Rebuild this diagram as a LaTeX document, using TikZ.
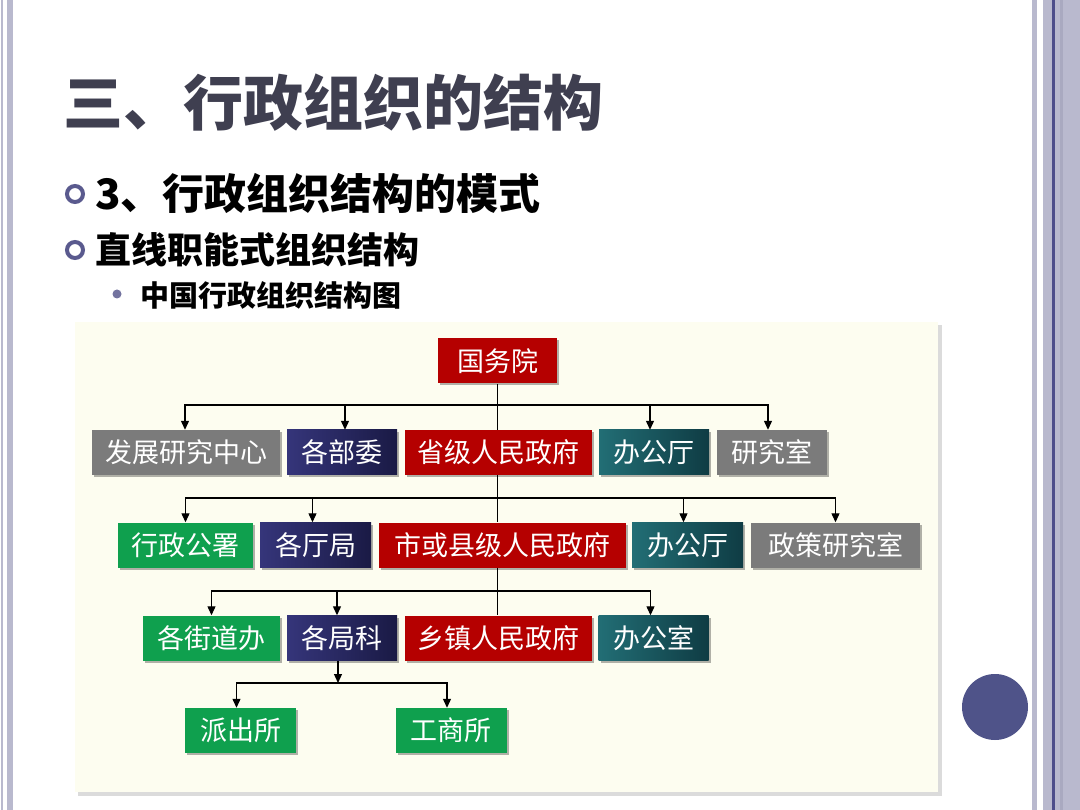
\documentclass[tikz,border=0pt]{standalone}
\usepackage{fontspec}
\setmainfont{Noto Sans CJK SC}
\usetikzlibrary{arrows.meta,shadows,calc}
\definecolor{titlec}{HTML}{3F3F50}
\definecolor{bul}{HTML}{5A5A8E}
\definecolor{stripe}{HTML}{B9B9CE}
\definecolor{stripeD}{HTML}{A9A9C0}
\definecolor{stripeB}{HTML}{4E4E8A}
\definecolor{panel}{HTML}{FDFDF0}
\definecolor{redb}{HTML}{B50000}
\definecolor{grayb}{HTML}{7B7B7B}
\definecolor{greenb}{HTML}{0FA04E}
\definecolor{navyL}{HTML}{35357A}
\definecolor{navyD}{HTML}{1A1A45}
\definecolor{tealL}{HTML}{226E75}
\definecolor{tealD}{HTML}{0F3C44}
\definecolor{circ}{HTML}{4F5389}
\tikzset{
  box/.style={text=white, inner sep=0pt, minimum height=45pt,
    font=\fontsize{27}{27}\selectfont,
    drop shadow={shadow xshift=2pt,shadow yshift=-2pt,opacity=0.3,fill=black}},
  redbox/.style={box, fill=redb},
  graybox/.style={box, fill=grayb},
  greenbox/.style={box, fill=greenb},
  navybox/.style={box, left color=navyL, right color=navyD},
  tealbox/.style={box, left color=tealL, right color=tealD},
  conn/.style={line width=1.2pt, black},
  arr/.style={conn, -{Triangle[length=9pt,width=8pt]}},
  txt/.style={anchor=west, inner sep=0pt},
}
\begin{document}
\begin{tikzpicture}[x=1pt,y=-1pt]
\useasboundingbox (0,0) rectangle (1080,810);
\fill[white] (0,0) rectangle (1080,810);
% side stripes
\fill[stripe] (1,0) rectangle (2.5,810);
\fill[stripe] (7,0) rectangle (12.5,810);
\fill[stripe] (1032,0) rectangle (1037,810);
\fill[stripe] (1043,0) rectangle (1080,810);
\fill[stripeB] (1052,0) rectangle (1054.5,810);
\fill[stripeD] (1060,0) rectangle (1063,810);
% circle decoration
\fill[circ] (995,707) circle (33);
% titles
\node[txt, text=titlec, font=\fontsize{60}{60}\selectfont\bfseries] (title) at (63,103) {三、行政组织的结构};
\draw[bul, line width=4pt] (75,194) circle (8);
\node[txt, font=\fontsize{42}{42}\selectfont\bfseries] (l1) at (95,193) {3、行政组织结构的模式};
\draw[bul, line width=4pt] (75,250) circle (8);
\node[txt, font=\fontsize{36}{36}\selectfont\bfseries] (l2) at (95,250) {直线职能式组织结构};
\fill[bul!85] (117,294) circle (4.5);
\node[txt, font=\fontsize{29}{29}\selectfont\bfseries] (l3) at (140,295) {中国行政组织结构图};
% panel
\fill[black!14] (78,325) rectangle (942,796);
\fill[panel] (75,322) rectangle (938,792);
% boxes
\node[redbox, minimum width=119pt] (gwy) at (497.5,361) {国务院};
\node[graybox, minimum width=188pt] (fz) at (186,452.5) {发展研究中心};
\node[navybox, minimum width=110pt] (bw) at (342,452.5) {各部委};
\node[redbox, minimum width=187pt] (sheng) at (498,452.5) {省级人民政府};
\node[tealbox, minimum width=110pt] (bgt1) at (654,452.5) {办公厅};
\node[graybox, minimum width=110pt] (yjs) at (772,452.5) {研究室};
\node[greenbox, minimum width=135pt] (xz) at (185.5,545) {行政公署};
\node[navybox, minimum width=111pt] (tj) at (315.5,545) {各厅局};
\node[redbox, minimum width=247pt] (shi) at (502.5,545) {市或县级人民政府};
\node[tealbox, minimum width=111pt] (bgt2) at (687.5,545) {办公厅};
\node[graybox, minimum width=169pt] (zc) at (835.5,545) {政策研究室};
\node[greenbox, minimum width=137pt] (jd) at (211.5,638) {各街道办};
\node[navybox, minimum width=110pt] (jk) at (342,638) {各局科};
\node[redbox, minimum width=187pt] (xiang) at (498,638) {乡镇人民政府};
\node[tealbox, minimum width=110pt] (bgs) at (653.5,638) {办公室};
\node[greenbox, minimum width=111pt] (pcs) at (240.5,730.5) {派出所};
\node[greenbox, minimum width=111pt] (gss) at (451,730.5) {工商所};
% trunk
\draw[conn] (gwy.south) -- (gwy.south |- sheng.north);
\draw[conn] (gwy.south |- sheng.south) -- (gwy.south |- shi.north);
\draw[conn] (gwy.south |- shi.south) -- (gwy.south |- xiang.north);
% bus junctions
\coordinate (j1) at (497.5,405);
\coordinate (j2) at (497.5,498);
\coordinate (j3) at (497.5,591);
\coordinate (j4) at (338,683);
\draw[arr] (j1) -| ([xshift=-1pt]fz.north);
\draw[arr] (j1) -| ([xshift=3pt]bw.north);
\draw[arr] (j1) -| ([xshift=-4pt]bgt1.north);
\draw[arr] (j1) -| ([xshift=-4pt]yjs.north);
\draw[arr] (j2) -| (xz.north);
\draw[arr] (j2) -| ([xshift=-3pt]tj.north);
\draw[arr] (j2) -| ([xshift=-4pt]bgt2.north);
\draw[arr] (j2) -| (zc.north);
\draw[arr] (j3) -| (jd.north);
\draw[arr] (j3) -| ([xshift=-5pt]jk.north);
\draw[arr] (j3) -| ([xshift=-3pt]bgs.north);
\draw[arr] (jk.south -| j4) -- (j4);
\draw[arr] (j4) -| ([xshift=-4pt]pcs.north);
\draw[arr] (j4) -| ([xshift=-4pt]gss.north);
\end{tikzpicture}
\end{document}
